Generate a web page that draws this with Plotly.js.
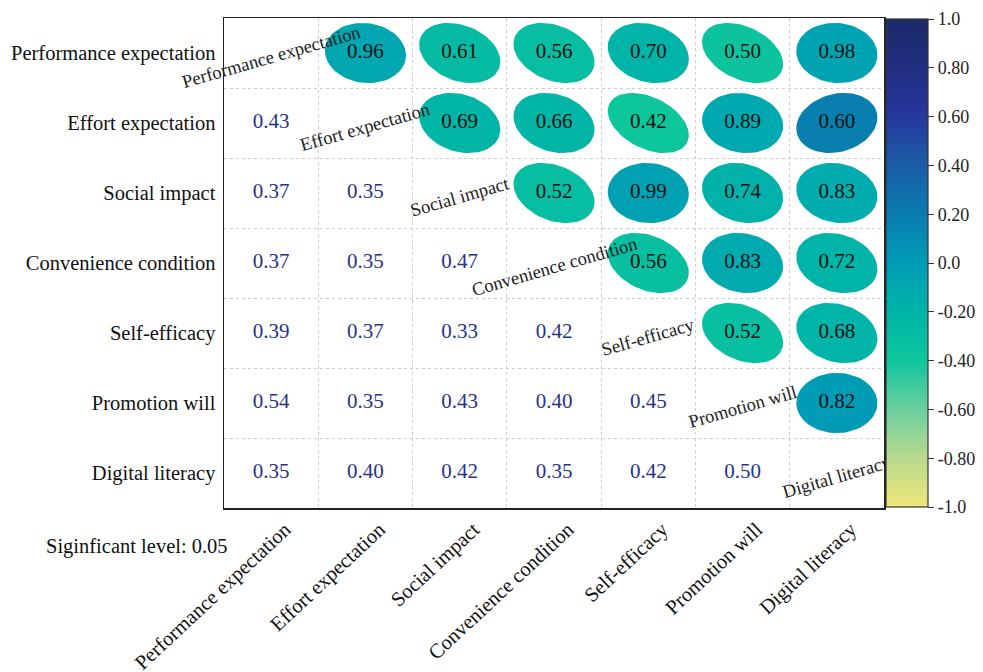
<!DOCTYPE html>
<html>
<head>
<meta charset="utf-8">
<script src="https://cdn.plot.ly/plotly-3.0.1.min.js"></script>
<style>
  html, body { margin: 0; padding: 0; background: #ffffff; }
  #chart { width: 983px; height: 672px; }
</style>
</head>
<body>
<div id="chart"></div>
<script>
// Variables of the correlation matrix
var variables = [
  "Performance expectation",
  "Effort expectation",
  "Social impact",
  "Convenience condition",
  "Self-efficacy",
  "Promotion will",
  "Digital literacy"
];

// Upper triangle: coefficients printed inside the ellipses (row i, columns i+1..6)
var upperValues = [
  [0.96, 0.61, 0.56, 0.70, 0.50, 0.98],
  [0.69, 0.66, 0.42, 0.89, 0.60],
  [0.52, 0.99, 0.74, 0.83],
  [0.56, 0.83, 0.72],
  [0.52, 0.68],
  [0.82]
];

// Upper triangle: position of each ellipse on the colour scale (-1 .. 1)
var ellipseScale = [
  [-0.08, -0.28, -0.30, -0.20, -0.37, -0.06],
  [-0.22, -0.22, -0.40, -0.10, 0.18],
  [-0.30, -0.04, -0.18, -0.13],
  [-0.32, -0.12, -0.20],
  [-0.32, -0.20],
  [0.00]
];

// Lower triangle: coefficients printed as numbers (row i, columns 0..i-1)
var lowerValues = [
  [],
  [0.43],
  [0.37, 0.35],
  [0.37, 0.35, 0.47],
  [0.39, 0.37, 0.33, 0.42],
  [0.54, 0.35, 0.43, 0.40, 0.45],
  [0.35, 0.40, 0.42, 0.35, 0.42, 0.50]
];

// Colour bar ticks
var cbTickVals = [1.0, 0.8, 0.6, 0.4, 0.2, 0.0, -0.2, -0.4, -0.6, -0.8, -1.0];
var cbTickText = ["1.0", "0.80", "0.60", "0.40", "0.20", "0.0", "-0.20", "-0.40", "-0.60", "-0.80", "-1.0"];

var significanceNote = "Siginficant level: 0.05";

// Yellow -> green -> teal -> navy scale spanning -1 .. 1
var colorscale = [
  [0.00, "#f0e678"],
  [0.10, "#b8da8e"],
  [0.20, "#6ccfa0"],
  [0.30, "#0ec69c"],
  [0.40, "#00b4a8"],
  [0.50, "#009cb6"],
  [0.60, "#0a7caf"],
  [0.70, "#1a5ea6"],
  [0.80, "#26379c"],
  [0.90, "#212e80"],
  [1.00, "#1b2a68"]
];

var FONT = "Liberation Serif, Times New Roman, serif";

function hexToRgb(h) {
  return [parseInt(h.substr(1, 2), 16), parseInt(h.substr(3, 2), 16), parseInt(h.substr(5, 2), 16)];
}
function scaleColor(v) {
  var t = (v + 1) / 2;
  t = Math.max(0, Math.min(1, t));
  for (var k = 1; k < colorscale.length; k++) {
    if (t <= colorscale[k][0]) {
      var a = colorscale[k - 1], b = colorscale[k];
      var f = (t - a[0]) / (b[0] - a[0]);
      var ca = hexToRgb(a[1]), cb = hexToRgb(b[1]);
      var c = ca.map(function (x, n) { return Math.round(x + (cb[n] - x) * f); });
      return "rgb(" + c.join(",") + ")";
    }
  }
  return colorscale[colorscale.length - 1][1];
}

var traces = [];
var R = 0.43; // ellipse half-extent in cell units
var centersX = [], centersY = [], centersC = [], centersT = [];

// Ellipses (upper triangle)
upperValues.forEach(function (row, i) {
  row.forEach(function (val, k) {
    var j = i + 1 + k;
    var r = ellipseScale[i][k];
    var d = Math.acos(r);
    var xs = [], ys = [];
    for (var s = 0; s <= 72; s++) {
      var t = 2 * Math.PI * s / 72;
      xs.push(j + R * Math.cos(t + d / 2));
      ys.push(i - R * Math.cos(t - d / 2));
    }
    traces.push({
      type: "scatter", mode: "lines", x: xs, y: ys,
      fill: "toself", fillcolor: scaleColor(r),
      line: { width: 0, color: scaleColor(r) },
      hoverinfo: "skip", showlegend: false
    });
    centersX.push(j); centersY.push(i); centersC.push(r); centersT.push(val.toFixed(2));
  });
});

// Numbers inside ellipses, plus the colour bar driven by the same scale values
traces.push({
  type: "scatter", mode: "markers+text",
  x: centersX, y: centersY, text: centersT,
  textposition: "middle center",
  textfont: { family: FONT, size: 21, color: "#111111" },
  marker: {
    size: 1, opacity: 0, color: centersC,
    colorscale: colorscale, cmin: -1, cmax: 1, showscale: true,
    colorbar: {
      x: 1.003, xanchor: "left", xpad: 0,
      y: 0.5, yanchor: "middle", len: 0.996, ypad: 0,
      thickness: 42, outlinecolor: "#333333", outlinewidth: 1.2,
      tickmode: "array", tickvals: cbTickVals, ticktext: cbTickText,
      ticks: "outside", ticklen: 6, tickcolor: "#333333", tickwidth: 1,
      tickfont: { family: FONT, size: 18, color: "#222222" }
    }
  },
  hoverinfo: "skip", showlegend: false
});

// Lower triangle numbers
var lx = [], ly = [], lt = [];
lowerValues.forEach(function (row, i) {
  row.forEach(function (val, j) {
    lx.push(j); ly.push(i); lt.push(val.toFixed(2));
  });
});
traces.push({
  type: "scatter", mode: "text", x: lx, y: ly, text: lt,
  textposition: "middle center",
  textfont: { family: FONT, size: 21, color: "#27348b" },
  hoverinfo: "skip", showlegend: false
});

// Rotated names on the diagonal
var annotations = variables.map(function (name, i) {
  return {
    x: i, y: i, xref: "x", yref: "y", text: name, showarrow: false,
    textangle: -16, yshift: -4,
    font: { family: FONT, size: 18.5, color: "#222222" }
  };
});

var plotL = 224, plotR = 99, plotT = 18, plotB = 164;
var plotW = 983 - plotL - plotR, plotH = 672 - plotT - plotB;
annotations.push({
  x: (44 - plotL) / plotW, y: (672 - plotB - 546) / plotH,
  xref: "paper", yref: "paper", text: significanceNote,
  showarrow: false, xanchor: "left", yanchor: "middle",
  font: { family: FONT, size: 20.5, color: "#111111" }
});

var idx = variables.map(function (_, i) { return i; });
var cellEdges = [0.5, 1.5, 2.5, 3.5, 4.5, 5.5];

var layout = {
  width: 983, height: 672,
  margin: { l: plotL, r: plotR, t: plotT, b: plotB, autoexpand: false },
  paper_bgcolor: "#ffffff", plot_bgcolor: "#ffffff",
  showlegend: false,
  xaxis: {
    range: [-0.5, 6.5], tickmode: "array", tickvals: idx, ticktext: variables,
    tickangle: -43, ticklabelshift: 14,
    tickfont: { family: FONT, size: 20.5, color: "#111111" },
    showgrid: false, zeroline: false, ticks: "",
    showline: true, mirror: true, linecolor: "#222222", linewidth: 1.5,
    minor: { tickmode: "array", tickvals: cellEdges, showgrid: true, gridcolor: "#cccccc", griddash: "dot", gridwidth: 1, ticks: "" },
    fixedrange: true
  },
  yaxis: {
    range: [6.5, -0.5], tickmode: "array", tickvals: idx, ticktext: variables,
    tickfont: { family: FONT, size: 20.5, color: "#111111" },
    showgrid: false, zeroline: false, ticks: "", ticklabelstandoff: 3,
    showline: true, mirror: true, linecolor: "#222222", linewidth: 1.5,
    minor: { tickmode: "array", tickvals: cellEdges, showgrid: true, gridcolor: "#cccccc", griddash: "dot", gridwidth: 1, ticks: "" },
    fixedrange: true
  },
  annotations: annotations
};

var gd = document.getElementById("chart");
Plotly.newPlot(gd, traces, layout, { displayModeBar: false, staticPlot: true }).then(function () {
  // Diagonal names may run out to the left, but stop at the right edge of the frame
  var sz = gd._fullLayout._size;
  var svgNS = "http://www.w3.org/2000/svg";
  var defs = gd.querySelector("svg.main-svg defs");
  if (!defs) return;
  var cp = document.createElementNS(svgNS, "clipPath");
  cp.setAttribute("id", "diag-name-clip");
  var rect = document.createElementNS(svgNS, "rect");
  rect.setAttribute("x", 0);
  rect.setAttribute("y", 0);
  rect.setAttribute("width", sz.l + sz.w);
  rect.setAttribute("height", 672);
  cp.appendChild(rect);
  defs.appendChild(cp);
  gd.querySelectorAll("g.annotation").forEach(function (g) {
    var n = parseInt(g.getAttribute("data-index"), 10);
    if (n < variables.length) g.setAttribute("clip-path", "url(#diag-name-clip)");
  });
});
</script>
</body>
</html>
